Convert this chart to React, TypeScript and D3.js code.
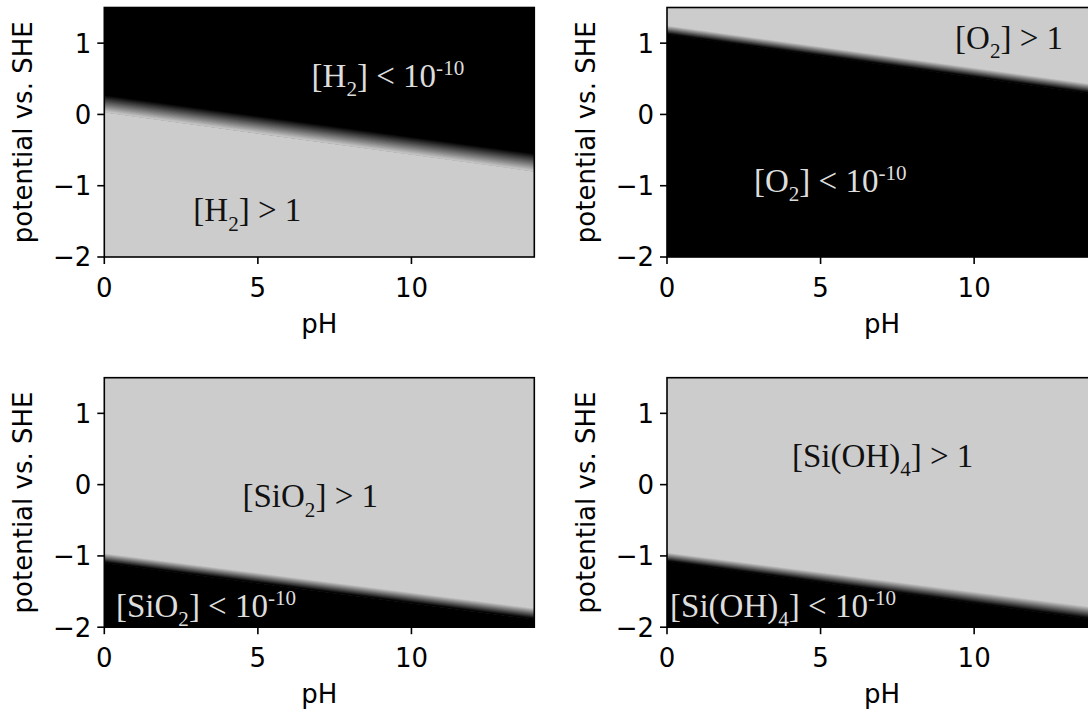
import React from 'react';
import * as d3 from 'd3';

// ---------- data ----------
const pHDomain = [0, 14];
const potentialDomain = [-2, 1.5];
const xTicks = [0, 5, 10];
const yTicks = [-2, -1, 0, 1];
const pHEnds = [0, 14];

// boundary potentials (V) read at pH 0 and pH 14
const h2DarkEdge = [0.27, -0.55];
const h2LightEdge = [0.03, -0.8];
const o2LightEdge = [1.24, 0.41];
const o2DarkEdge = [1.12, 0.28];
const sio2LightEdge = [-0.97, -1.74];
const sio2DarkEdge = [-1.1, -1.89];
const sioh4LightEdge = [-0.96, -1.73];
const sioh4DarkEdge = [-1.08, -1.9];

type Seg = { t: string; k: 'n' | 'sub' | 'sup' };
type Label = { pH: number; E: number; dark: boolean; segs: Seg[] };

const h2Labels: Label[] = [
  { pH: 6.75, E: 0.39, dark: false, segs: [{ t: '[H', k: 'n' }, { t: '2', k: 'sub' }, { t: '] < 10', k: 'n' }, { t: '-10', k: 'sup' }] },
  { pH: 2.9, E: -1.5, dark: true, segs: [{ t: '[H', k: 'n' }, { t: '2', k: 'sub' }, { t: '] > 1', k: 'n' }] },
];
const o2Labels: Label[] = [
  { pH: 9.38, E: 0.92, dark: true, segs: [{ t: '[O', k: 'n' }, { t: '2', k: 'sub' }, { t: '] > 1', k: 'n' }] },
  { pH: 2.83, E: -1.09, dark: false, segs: [{ t: '[O', k: 'n' }, { t: '2', k: 'sub' }, { t: '] < 10', k: 'n' }, { t: '-10', k: 'sup' }] },
];
const sio2Labels: Label[] = [
  { pH: 4.5, E: -0.32, dark: true, segs: [{ t: '[SiO', k: 'n' }, { t: '2', k: 'sub' }, { t: '] > 1', k: 'n' }] },
  { pH: 0.38, E: -1.85, dark: false, segs: [{ t: '[SiO', k: 'n' }, { t: '2', k: 'sub' }, { t: '] < 10', k: 'n' }, { t: '-10', k: 'sup' }] },
];
const sioh4Labels: Label[] = [
  { pH: 4.07, E: 0.25, dark: true, segs: [{ t: '[Si(OH)', k: 'n' }, { t: '4', k: 'sub' }, { t: '] > 1', k: 'n' }] },
  { pH: 0.1, E: -1.85, dark: false, segs: [{ t: '[Si(OH)', k: 'n' }, { t: '4', k: 'sub' }, { t: '] < 10', k: 'n' }, { t: '-10', k: 'sup' }] },
];

// ---------- layout ----------
const W = 1088;
const H = 711;
const colLeft = [104.3, 667];
const rowTop = [7.5, 377.7];
const PW = 430;
const PH = 249.5;
const GRAY = '#cccccc';
const BLACK = '#000000';

type Panel = {
  id: string;
  col: number;
  row: number;
  topColor: string;
  bottomColor: string;
  upper: number[];
  lower: number[];
  labels: Label[];
};

const panels: Panel[] = [
  { id: 'h2', col: 0, row: 0, topColor: BLACK, bottomColor: GRAY, upper: h2DarkEdge, lower: h2LightEdge, labels: h2Labels },
  { id: 'o2', col: 1, row: 0, topColor: GRAY, bottomColor: BLACK, upper: o2LightEdge, lower: o2DarkEdge, labels: o2Labels },
  { id: 'sio2', col: 0, row: 1, topColor: GRAY, bottomColor: BLACK, upper: sio2LightEdge, lower: sio2DarkEdge, labels: sio2Labels },
  { id: 'sioh4', col: 1, row: 1, topColor: GRAY, bottomColor: BLACK, upper: sioh4LightEdge, lower: sioh4DarkEdge, labels: sioh4Labels },
];

const SANS = 'DejaVu Sans, sans-serif';
const SERIF = 'Liberation Serif, serif';
const TICK_FS = 26;
const LABEL_FS = 33;
const SMALL = 0.64;
const N_STRIPS = 30;

function PanelView({ p }: { p: Panel }) {
  const x0 = colLeft[p.col];
  const y0 = rowTop[p.row];
  const x = d3.scaleLinear().domain(pHDomain).range([x0, x0 + PW]);
  const y = d3.scaleLinear().domain(potentialDomain).range([y0 + PH, y0]);
  const interp = d3.interpolateRgb(p.topColor, p.bottomColor);
  const edgeAt = (f: number) => p.upper.map((u, i) => u + (p.lower[i] - u) * f);
  const poly = (a: number[], b: number[]) => {
    const pts: [number, number][] = [
      ...pHEnds.map((ph, i) => [x(ph), y(a[i])] as [number, number]),
      ...pHEnds.map((ph, i) => [x(ph), y(b[i])] as [number, number]).reverse(),
    ];
    return d3.line()(pts) + 'Z';
  };
  const strips = d3.range(N_STRIPS).map((i) => ({
    d: poly(edgeAt(i / N_STRIPS), edgeAt((i + 1) / N_STRIPS)),
    c: interp((i + 0.5) / N_STRIPS),
  }));
  const bottomLine = [potentialDomain[0] - 1, potentialDomain[0] - 1];
  const clipId = `clip-${p.id}`;
  return (
    <g>
      <clipPath id={clipId}>
        <rect x={x0} y={y0} width={PW} height={PH} />
      </clipPath>
      <g clipPath={`url(#${clipId})`}>
        <rect x={x0} y={y0} width={PW} height={PH} fill={p.topColor} />
        <path d={poly(p.lower, bottomLine)} fill={p.bottomColor} />
        {strips.map((s, i) => (
          <path key={i} d={s.d} fill={s.c} stroke={s.c} strokeWidth={0.6} />
        ))}
        {p.labels.map((l, i) => (
          <text
            key={i}
            x={x(l.pH)}
            y={y(l.E)}
            fontFamily={SERIF}
            fontSize={LABEL_FS}
            fill={l.dark ? '#111111' : '#dddddd'}
          >
            {l.segs.map((s, j) => {
              const prev = j > 0 ? l.segs[j - 1].k : 'n';
              let dy = 0;
              if (s.k === 'sub') dy = 0.28 * LABEL_FS;
              else if (s.k === 'sup') dy = -0.36 * LABEL_FS;
              if (prev === 'sub') dy -= 0.28 * LABEL_FS;
              if (prev === 'sup') dy += 0.36 * LABEL_FS;
              return (
                <tspan key={j} dy={dy} fontSize={s.k === 'n' ? LABEL_FS : LABEL_FS * SMALL}>
                  {s.t}
                </tspan>
              );
            })}
          </text>
        ))}
      </g>
      <rect x={x0} y={y0} width={PW} height={PH} fill="none" stroke="#000" strokeWidth={1.6} />
      {xTicks.map((t) => (
        <g key={`x${t}`}>
          <line x1={x(t)} x2={x(t)} y1={y0 + PH} y2={y0 + PH + 7} stroke="#000" strokeWidth={1.6} />
          <text x={x(t)} y={y0 + PH + 40} textAnchor="middle" fontFamily={SANS} fontSize={TICK_FS} fill="#000">
            {d3.format('d')(t)}
          </text>
        </g>
      ))}
      {yTicks.map((t) => (
        <g key={`y${t}`}>
          <line x1={x0 - 7} x2={x0} y1={y(t)} y2={y(t)} stroke="#000" strokeWidth={1.6} />
          <text x={x0 - 13} y={y(t)} dy="0.36em" textAnchor="end" fontFamily={SANS} fontSize={TICK_FS} fill="#000">
            {t < 0 ? `\u2212${Math.abs(t)}` : `${t}`}
          </text>
        </g>
      ))}
      <text x={x0 + PW / 2} y={y0 + PH + 76} textAnchor="middle" fontFamily={SANS} fontSize={TICK_FS} fill="#000">
        pH
      </text>
      <text
        transform={`translate(${x0 - 72},${y0 + PH / 2}) rotate(-90)`}
        textAnchor="middle"
        fontFamily={SANS}
        fontSize={TICK_FS}
        fill="#000"
      >
        potential vs. SHE
      </text>
    </g>
  );
}

export default function App() {
  return (
    <svg
      width={W}
      height={H}
      viewBox={`0 0 ${W} ${H}`}
      style={{ position: 'absolute', left: 0, top: 0, background: '#fff' }}
    >
      <rect x={0} y={0} width={W} height={H} fill="#fff" />
      {panels.map((p) => (
        <PanelView key={p.id} p={p} />
      ))}
    </svg>
  );
}
